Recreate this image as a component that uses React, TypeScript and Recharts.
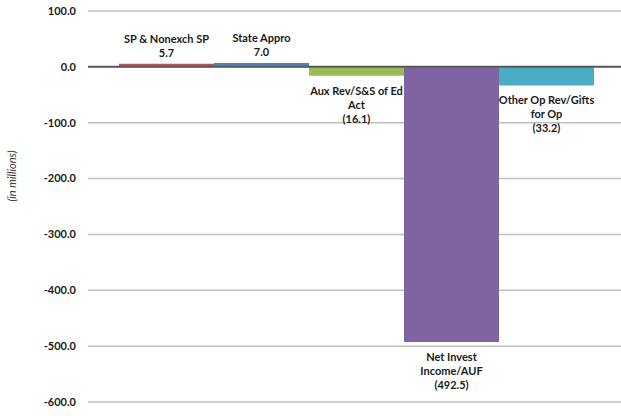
import { BarChart, Bar, XAxis, YAxis, CartesianGrid, ReferenceLine, LabelList, Cell } from 'recharts';

// categories (split into the lines shown on the chart labels)
const categories = ['SP & Nonexch SP', 'State Appro', 'Aux Rev/S&S of Ed Act', 'Net Invest Income/AUF', 'Other Op Rev/Gifts for Op'];
const labelLines = [
  ['SP & Nonexch SP'],
  ['State Appro'],
  ['Aux Rev/S&S of Ed', 'Act'],
  ['Net Invest', 'Income/AUF'],
  ['Other Op Rev/Gifts', 'for Op'],
];
const values = [5.7, 7.0, -16.1, -492.5, -33.2];
const yTicks = [-600, -500, -400, -300, -200, -100, 0, 100];

const COLORS = ['#C0504D', '#4F81BD', '#9BBB59', '#8064A2', '#4BACC6'];
const FONT = 'Lato, "Open Sans", sans-serif';

const data = categories.map((name, i) => ({ name, value: values[i] }));

const fmt = (v: number) => (v < 0 ? `(${Math.abs(v).toFixed(1)})` : v.toFixed(1));

const BarLabel = (props: any) => {
  const { x, y, width, height, index } = props;
  const v = values[index];
  const lines = [...labelLines[index], fmt(v)];
  const cx = Number(x) + Number(width) / 2;
  const top = Math.min(Number(y), Number(y) + Number(height));
  const bottom = Math.max(Number(y), Number(y) + Number(height));
  const lh = 14;
  const startY = v >= 0 ? top - 7 - (lines.length - 1) * lh : bottom + 19;
  return (
    <text textAnchor="middle" fontFamily={FONT} fontSize={11} fontWeight="bold" fill="#1a1a1a">
      {lines.map((l, i) => (
        <tspan key={i} x={cx} y={startY + i * lh}>{l}</tspan>
      ))}
    </text>
  );
};

const AxisTitle = (props: any) => {
  const vb = props.viewBox || {};
  const cy = 176;
  const cx = 13;
  return (
    <text x={cx} y={cy} transform={`rotate(-90, ${cx}, ${cy})`} textAnchor="middle" dominantBaseline="middle"
      fontFamily={FONT} fontSize={11} fontStyle="italic" fill="#333">
      (in  millions)
    </text>
  );
};

export default function App() {
  return (
    <div style={{ position: 'absolute', left: 0, top: 0, width: 621, height: 416, background: '#fff' }}>
      <BarChart width={621} height={416} data={data} margin={{ top: 11, right: 0, bottom: 14, left: 0 }}
        barCategoryGap={0} barGap={0}>
        <CartesianGrid vertical={false} stroke="#BFBFBF" strokeWidth={1.5} />
        <XAxis dataKey="name" hide padding={{ left: 31, right: 27 }} />
        <YAxis
          width={88}
          domain={[-600, 100]}
          ticks={yTicks}
          tickFormatter={(v: number) => v.toFixed(1)}
          axisLine={false}
          tickLine={false}
          tickSize={0}
          tickMargin={12}
          tick={{ fontFamily: FONT, fontSize: 11, fontWeight: 'bold', fill: '#1a1a1a' }}
          label={{ content: <AxisTitle /> }}
        />
        <Bar dataKey="value" isAnimationActive={false}>
          {data.map((_, i) => (
            <Cell key={i} fill={COLORS[i]} />
          ))}
          <LabelList dataKey="value" content={<BarLabel />} />
        </Bar>
        <ReferenceLine y={0} stroke="#595959" strokeWidth={2} />
      </BarChart>
    </div>
  );
}
